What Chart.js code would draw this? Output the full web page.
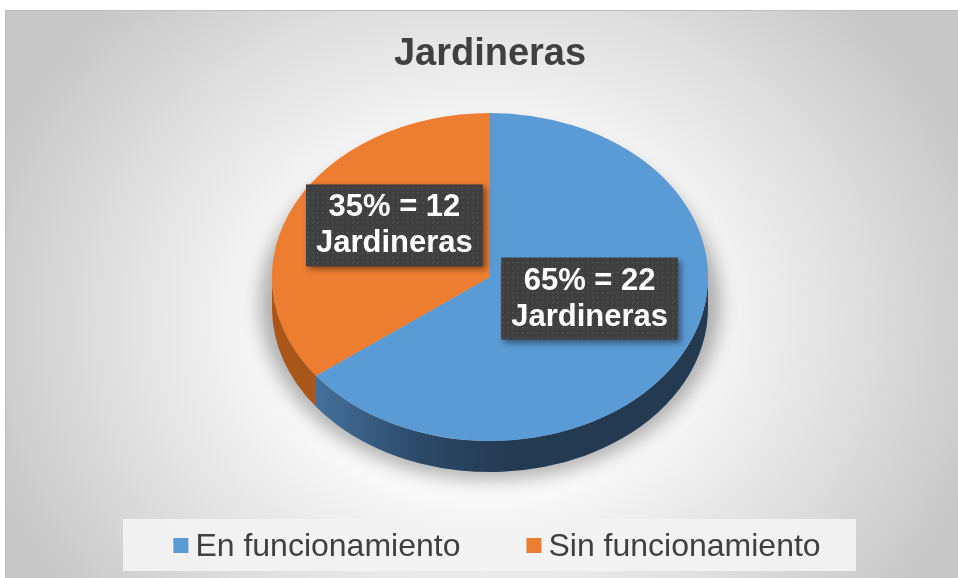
<!DOCTYPE html>
<html lang="es">
<head>
    <meta charset="UTF-8">
    <title>Jardineras</title>
    <script src="https://cdn.jsdelivr.net/npm/chart.js"></script>
    <style>
        html, body {
            margin: 0;
            padding: 0;
            background: #ffffff;
        }
        #wrap {
            width: 958px;
            height: 578px;
        }
    </style>
</head>
<body>
    <div id="wrap"><canvas id="pieChart" width="958" height="578"></canvas></div>

    <script>
        // Data
        const categories = ['En funcionamiento', 'Sin funcionamiento'];
        const counts = [22, 12];
        const percents = [65, 35];
        const unitWord = 'Jardineras';
        const sliceColors = ['#5b9bd5', '#ed7d31'];

        // Look of the 3D disc
        const TILT = 164 / 218;      // vertical squash of the top face
        const DEPTH = 31;            // thickness of the disc (px)
        const ELLIPSE_Y = 277;       // centre of the top face on screen
        const LABEL_R = 0.5;         // label spot, fraction of radius
        const LABEL_LIFT = 15;
        const sideColors = [
            ['#4674a2', '#2c4a68', '#233a51'],
            ['#a9561b', '#c0651f', '#c96a22']
        ];
        const FONT = '"Liberation Sans", Arial, sans-serif';

        // small dotted texture for the label boxes
        const dotCanvas = document.createElement('canvas');
        dotCanvas.width = 5;
        dotCanvas.height = 5;
        const dctx = dotCanvas.getContext('2d');
        dctx.fillStyle = 'rgba(255,255,255,0.10)';
        dctx.fillRect(2, 2, 1.5, 1.5);

        const pie3d = {
            id: 'pie3d',
            beforeDraw(chart) {
                const ctx = chart.ctx;
                ctx.save();
                ctx.fillStyle = '#ffffff';
                ctx.fillRect(0, 0, chart.width, chart.height);
                // elliptical radial wash, white in the middle
                ctx.save();
                ctx.beginPath();
                ctx.rect(5, 10, chart.width - 5, chart.height - 10);
                ctx.clip();
                ctx.translate(482, 320);
                ctx.scale(1, 0.85);
                const g = ctx.createRadialGradient(0, 0, 0, 0, 0, 520);
                g.addColorStop(0, '#ffffff');
                g.addColorStop(0.35, '#fdfdfd');
                g.addColorStop(1, '#c8c8c8');
                ctx.fillStyle = g;
                ctx.fillRect(-600, -500, 1200, 1000);
                ctx.restore();
                ctx.strokeStyle = '#bdbdbd';
                ctx.lineWidth = 1;
                ctx.beginPath();
                ctx.moveTo(5.5, chart.height);
                ctx.lineTo(5.5, 10.5);
                ctx.lineTo(chart.width, 10.5);
                ctx.stroke();
                ctx.restore();
            },
            beforeDatasetsDraw(chart) {
                const ctx = chart.ctx;
                const meta = chart.getDatasetMeta(0);
                const { x, y, outerRadius: R } = meta.data[0];

                // soft floor shadow (shape kept off canvas, only its shadow lands)
                ctx.save();
                ctx.shadowColor = 'rgba(0,0,0,0.30)';
                ctx.shadowBlur = 18;
                ctx.shadowOffsetX = -3000;
                ctx.beginPath();
                ctx.ellipse(x + 3000, ELLIPSE_Y + DEPTH - 4, R + 12, R * TILT + 12, 0, 0, Math.PI * 2);
                ctx.fillStyle = '#000';
                ctx.fill();
                ctx.restore();

                ctx.save();
                ctx.translate(x, ELLIPSE_Y);
                ctx.scale(1, TILT);
                ctx.translate(-x, -y);
                const D = DEPTH / TILT;

                // visible rim of each slice
                meta.data.forEach((arc, i) => {
                    const lo = Math.max(arc.startAngle, 0);
                    const hi = Math.min(arc.endAngle, Math.PI);
                    if (hi <= lo) return;
                    const g = ctx.createLinearGradient(x - R * 0.85, 0, x + R * 0.1, 0);
                    g.addColorStop(0, sideColors[i][0]);
                    g.addColorStop(0.55, sideColors[i][1]);
                    g.addColorStop(1, sideColors[i][2]);
                    ctx.beginPath();
                    ctx.arc(x, y, R, lo, hi);
                    ctx.arc(x, y + D, R, hi, lo, true);
                    ctx.closePath();
                    ctx.fillStyle = g;
                    ctx.fill();
                });
            },
            afterDatasetsDraw(chart) {
                const ctx = chart.ctx;
                ctx.restore();

                const meta = chart.getDatasetMeta(0);
                ctx.save();
                ctx.font = 'bold 31px ' + FONT;
                const pattern = ctx.createPattern(dotCanvas, 'repeat');
                meta.data.forEach((arc, i) => {
                    const m = (arc.startAngle + arc.endAngle) / 2;
                    const px = arc.x + LABEL_R * arc.outerRadius * Math.cos(m) + 2;
                    const py = ELLIPSE_Y - LABEL_LIFT + LABEL_R * arc.outerRadius * TILT * Math.sin(m);
                    const lines = [percents[i] + '% = ' + counts[i], unitWord];
                    const w = Math.max(...lines.map(t => ctx.measureText(t).width)) + 20;
                    const h = 82;
                    const left = px - w / 2;
                    const top = py - h / 2;

                    ctx.save();
                    ctx.shadowColor = 'rgba(0,0,0,0.45)';
                    ctx.shadowBlur = 6;
                    ctx.shadowOffsetX = 3;
                    ctx.shadowOffsetY = 3;
                    ctx.fillStyle = '#3f3f3f';
                    ctx.fillRect(left, top, w, h);
                    ctx.restore();
                    ctx.fillStyle = pattern;
                    ctx.fillRect(left, top, w, h);

                    ctx.fillStyle = '#ffffff';
                    ctx.textAlign = 'center';
                    ctx.textBaseline = 'alphabetic';
                    ctx.fillText(lines[0], px, top + 32);
                    ctx.fillText(lines[1], px, top + 68);
                });
                ctx.restore();
            },
            afterDraw(chart) {
                // legend strip at the bottom
                const ctx = chart.ctx;
                ctx.save();
                ctx.fillStyle = 'rgba(243,243,243,0.92)';
                ctx.fillRect(123, 519, 733, 52);
                ctx.font = '32px ' + FONT;
                const sq = 15, gap = 7, itemGap = 66;
                const widths = categories.map(t => ctx.measureText(t).width);
                let total = 0;
                widths.forEach((tw, i) => { total += sq + gap + tw + (i ? itemGap : 0); });
                let cx = 497 - total / 2;
                ctx.textBaseline = 'alphabetic';
                ctx.textAlign = 'left';
                categories.forEach((t, i) => {
                    ctx.fillStyle = sliceColors[i];
                    ctx.fillRect(cx, 538, sq, sq);
                    ctx.fillStyle = '#404040';
                    ctx.fillText(t, cx + sq + gap, 556);
                    cx += sq + gap + widths[i] + itemGap;
                });
                ctx.restore();
            }
        };

        new Chart(document.getElementById('pieChart'), {
            type: 'pie',
            data: {
                labels: categories,
                datasets: [{
                    data: counts,
                    backgroundColor: sliceColors,
                    borderWidth: 0
                }]
            },
            options: {
                responsive: false,
                animation: false,
                events: [],
                layout: {
                    padding: { left: 272, right: 250, top: 0, bottom: 40 }
                },
                plugins: {
                    legend: { display: false },
                    tooltip: { enabled: false },
                    title: {
                        display: true,
                        text: 'Jardineras',
                        color: '#404040',
                        font: { family: FONT, size: 38, weight: 'bold' },
                        padding: { top: 32, bottom: 0 }
                    }
                }
            },
            plugins: [pie3d]
        });
    </script>
</body>
</html>
